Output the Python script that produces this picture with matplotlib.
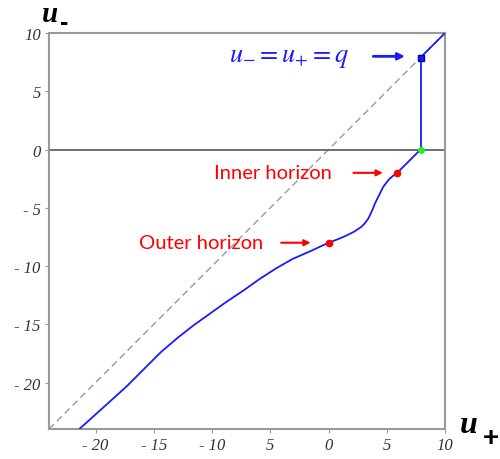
import matplotlib
matplotlib.use("Agg")
import matplotlib.pyplot as plt

# axis ranges and tick labels
X_RANGE = (-24, 10)
Y_RANGE = (-24, 10)
x_ticks = [-20, -15, -10, -5, 0, 5, 10]
x_tick_labels = ["- 20", "- 15", "- 10", "5", "0", "5", "10"]
y_ticks = [10, 5, 0, -5, -10, -15, -20]
y_tick_labels = ["10", "5", "0", "- 5", "- 10", "- 15", "- 20"]

# trajectory u_- (u_+)
u_plus = [-21.4, -19.4, -17.3, -15.8, -14.4, -13.0, -11.6, -10.2, -8.8, -7.3,
          -5.9, -4.5, -3.1, -1.5, 0.0, 0.8, 1.5, 2.2, 2.8, 3.1, 3.4, 3.6, 3.8,
          4.0, 4.25, 4.5, 4.7, 5.0, 5.25, 5.55, 5.9, 6.4, 6.85, 7.4, 7.9]
u_minus = [-24.0, -22.2, -20.3, -18.8, -17.4, -16.2, -15.1, -14.1, -13.1, -12.1,
           -11.1, -10.2, -9.4, -8.7, -8.0, -7.7, -7.4, -7.05, -6.65, -6.35,
           -5.95, -5.55, -5.1, -4.6, -4.1, -3.6, -3.2, -2.8, -2.5, -2.25,
           -2.0, -1.5, -1.05, -0.5, 0.0]

q = 7.9
outer = (0.0, -8.0)
inner = (5.9, -2.0)

BLUE = "#1a1aff"
RED = "#ff0000"
GRAY = "#999999"

plt.rcParams["mathtext.fontset"] = "stix"

fig = plt.figure(figsize=(5, 4.6), dpi=100)
ax = fig.add_axes([0.098, 0.065, 0.792, 0.861])
ax.set_xlim(*X_RANGE)
ax.set_ylim(*Y_RANGE)

# diagonal u_- = u_+
ax.plot(X_RANGE, Y_RANGE, color=GRAY, lw=1.0, dashes=(5, 3), zorder=1)
# horizontal axis u_- = 0
ax.axhline(0, color="#555555", lw=1.2, zorder=1)

ax.plot(u_plus, u_minus, color=BLUE, lw=1.3, zorder=3,
        solid_joinstyle="round")
ax.plot([q, q], [0, q], color=BLUE, lw=1.3, zorder=3)
ax.plot([q, X_RANGE[1]], [q, Y_RANGE[1]], color=BLUE, lw=1.3, zorder=3)

ax.plot(*outer, "o", color=RED, ms=4.5, zorder=4)
ax.plot(*inner, "o", color=RED, ms=4.5, zorder=4)
ax.plot(q, 0, "o", color="#22ee22", ms=4, zorder=4)
ax.plot(q, q, "s", mfc=BLUE, mec="#0000aa", ms=4.5, zorder=4)

# annotations
arrow_red = dict(arrowstyle="-|>", color=RED, lw=1.5, mutation_scale=9)
arrow_blue = dict(arrowstyle="-|>", color=BLUE, lw=2.0, mutation_scale=10)
ax.annotate("", xy=(-1.3, -8.0), xytext=(-4.3, -8.0), arrowprops=arrow_red)
ax.annotate("", xy=(4.9, -2.0), xytext=(1.9, -2.0), arrowprops=arrow_red)
ax.annotate("", xy=(6.8, 8.0), xytext=(3.6, 8.0), arrowprops=arrow_blue)
ax.text(-5.6, -8.0, "Outer horizon", color=RED, fontsize=14.5, family="Lato",
        ha="right", va="center")
ax.text(0.3, -2.0, "Inner horizon", color=RED, fontsize=14.5, family="Lato",
        ha="right", va="center")
ax.text(1.8, 8.0, r"$u_{-}=u_{+}=q$", color=BLUE, fontsize=19,
        ha="right", va="center")

# axis titles
fig.text(0.084, 0.953, "u", fontsize=21, family="Liberation Serif",
         style="italic", weight="bold", va="baseline")
fig.text(0.12, 0.935, "-", fontsize=18, family="Liberation Sans",
         weight="bold", va="baseline")
fig.text(0.920, 0.058, "u", fontsize=23, family="Liberation Serif",
         style="italic", weight="bold", va="baseline")
fig.text(0.965, 0.03, "+", fontsize=20, family="Liberation Sans",
         weight="bold", va="baseline")

ax.set_xticks(x_ticks)
ax.set_xticklabels(x_tick_labels)
ax.set_yticks(y_ticks)
ax.set_yticklabels(y_tick_labels)
for lbl in ax.get_xticklabels() + ax.get_yticklabels():
    lbl.set_family("Liberation Serif")
    lbl.set_style("italic")
    lbl.set_fontsize(12)
    lbl.set_color("#333333")
ax.tick_params(direction="out", length=3, width=0.8, color=GRAY, pad=3)
for s in ax.spines.values():
    s.set_color(GRAY)
    s.set_linewidth(1.5)

fig.savefig("out.png", dpi=100)
